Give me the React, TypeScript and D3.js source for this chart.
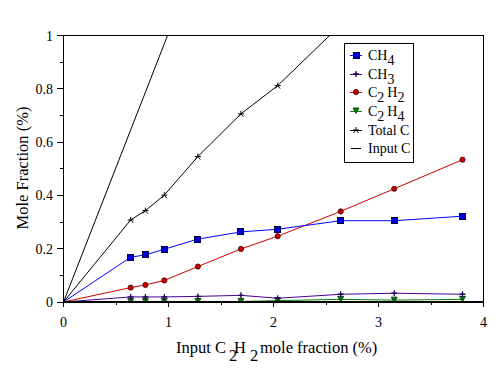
import React from "react";
import * as d3 from "d3";

const xInput = [0, 0.64, 0.78, 0.96, 1.28, 1.69, 2.04, 2.64, 3.15, 3.8];
const ch4 = [0, 0.168, 0.177, 0.198, 0.236, 0.263, 0.273, 0.305, 0.305, 0.322];
const ch3 = [0, 0.019, 0.019, 0.019, 0.021, 0.025, 0.014, 0.029, 0.033, 0.029];
const c2h2 = [0, 0.054, 0.064, 0.081, 0.133, 0.199, 0.247, 0.34, 0.425, 0.534];
const c2h4 = [0, 0.002, 0.002, 0.002, 0.002, 0.002, 0.005, 0.01, 0.007, 0.01];
const totalC = [0, 0.308, 0.343, 0.401, 0.546, 0.706, 0.812, 1.04, 1.21, 1.44];
const inputC = [0, 0.646, 0.787, 0.969, 1.292, 1.706, 2.06, 2.666, 3.18, 3.84];

const xTicks = [0, 1, 2, 3, 4];
const yTicks = [0, 0.2, 0.4, 0.6, 0.8, 1];

const FONT = "Liberation Serif";

type Series = { key: string; values: number[]; color: string; marker: string; label: [string, string][] };

const series: Series[] = [
  { key: "ch4", values: ch4, color: "#0000ff", marker: "square", label: [["CH", ""], ["4", "sub"]] },
  { key: "ch3", values: ch3, color: "#4b0090", marker: "plus", label: [["CH", ""], ["3", "sub"]] },
  { key: "c2h2", values: c2h2, color: "#cc0000", marker: "circle", label: [["C", ""], ["2", "sub"], ["H", "gap"], ["2", "sub"]] },
  { key: "c2h4", values: c2h4, color: "#008000", marker: "triangle", label: [["C", ""], ["2", "sub"], ["H", "gap"], ["4", "sub"]] },
  { key: "total", values: totalC, color: "#000000", marker: "star", label: [["Total C", ""]] },
  { key: "input", values: inputC, color: "#000000", marker: "none", label: [["Input C", ""]] },
];

function Marker({ type, x, y }: { type: string; x: number; y: number }) {
  if (type === "square")
    return <rect x={x - 3} y={y - 3} width={6} height={6} fill="#0000dd" stroke="#000040" strokeWidth={1} shapeRendering="crispEdges" />;
  if (type === "circle")
    return <circle cx={x} cy={y} r={2.6} fill="#cc0000" stroke="#400000" strokeWidth={0.8} />;
  if (type === "triangle")
    return <path d={`M${x - 3},${y - 3}L${x + 3},${y - 3}L${x},${y + 2.5}Z`} fill="#008000" stroke="#003000" strokeWidth={0.8} />;
  if (type === "plus")
    return (
      <g>
        <path d={`M${x - 3},${y}L${x + 3},${y}M${x},${y - 3}L${x},${y + 3}`} stroke="#2a0060" strokeWidth={1.3} fill="none" />
        <path d={`M${x - 1.5},${y}L${x},${y - 1.5}L${x + 1.5},${y}L${x},${y + 1.5}Z`} fill="#2a0060" />
      </g>
    );
  if (type === "star")
    return (
      <path
        d={`M${x - 3},${y}L${x + 3},${y}M${x},${y - 3}L${x},${y}M${x},${y}L${x - 2.5},${y + 3}M${x},${y}L${x + 2.5},${y + 3}`}
        stroke="#000" strokeWidth={1} fill="none"
      />
    );
  return null;
}

export default function App() {
  const x = d3.scaleLinear().domain([0, 4]).range([63.5, 483.5]);
  const y = d3.scaleLinear().domain([0, 1]).range([302, 35.5]);
  const line = d3.line<number>().x((_, i) => x(xInput[i])).y((d) => y(d));
  const rowY = [55, 74, 92, 111, 130, 148];
  const xMinor = d3.range(0, 4.01, 0.5);
  const yMinor = d3.range(0, 1.001, 0.1);
  const rev = [...series].reverse();

  return (
    <svg width={498} height={382} style={{ position: "absolute", left: 0, top: 0 }} fontFamily={FONT}>
      <rect width={498} height={382} fill="#fff" />
      <defs>
        <clipPath id="plotclip">
          <rect x={x(0)} y={y(1)} width={x(4) - x(0)} height={y(0) - y(1)} />
        </clipPath>
      </defs>
      <g clipPath="url(#plotclip)">
        {rev.map((s) => (
          <path key={s.key} d={line(s.values) || ""} fill="none" stroke={s.color} strokeWidth={1} />
        ))}
        {rev.map((s) =>
          s.marker === "none"
            ? null
            : s.values.map((v, i) =>
                i === 0 || v > 1 ? null : <Marker key={s.key + i} type={s.marker} x={x(xInput[i])} y={y(v)} />
              )
        )}
      </g>
      <rect x={x(0)} y={y(1)} width={x(4) - x(0)} height={y(0) - y(1)} fill="none" stroke="#000" strokeWidth={1.2} shapeRendering="crispEdges" />
      <g shapeRendering="crispEdges" stroke="#000" strokeWidth={1}>
        {xMinor.map((t) => {
          const major = Math.abs(t - Math.round(t)) < 1e-6;
          return <line key={"xt" + t} x1={x(t)} x2={x(t)} y1={y(0)} y2={y(0) + (major ? 5 : 3)} />;
        })}
        {yMinor.map((t) => {
          const major = Math.round(t * 10) % 2 === 0;
          return <line key={"yt" + t} x1={x(0)} x2={x(0) - (major ? 7 : 4)} y1={y(t)} y2={y(t)} />;
        })}
      </g>
      {xTicks.map((t) => (
        <text key={"xl" + t} x={x(t)} y={327} textAnchor="middle" fontSize={14}>{String(t)}</text>
      ))}
      {yTicks.map((t) => (
        <text key={"yl" + t} x={53} y={y(t) + 5} textAnchor="end" fontSize={14}>{String(t)}</text>
      ))}
      <text transform="translate(28,168) rotate(-90)" textAnchor="middle" fontSize={16.5}>Mole Fraction (%)</text>
      <text fontSize={16.5}>
        <tspan x={176} y={353}>Input C</tspan>
        <tspan x={229} y={361}>2</tspan>
        <tspan x={234} y={353}>H</tspan>
        <tspan x={250} y={361}>2</tspan>
        <tspan x={260} y={353}>mole fraction (%)</tspan>
      </text>
      <rect x={344.5} y={43.5} width={69} height={119} fill="#fff" stroke="#000" strokeWidth={1} shapeRendering="crispEdges" />
      {series.map((s, i) => {
        const yy = rowY[i];
        let shifted = false;
        return (
          <g key={"lg" + s.key}>
            <line x1={s.marker === "none" ? 351 : 350} x2={s.marker === "none" ? 361 : 362} y1={yy} y2={yy} stroke={s.color} strokeWidth={1} shapeRendering="crispEdges" />
            <Marker type={s.marker} x={356} y={yy} />
            <text x={368} y={yy + 5} fontSize={14}>
              {s.label.map(([txt, kind], j) => {
                if (kind === "sub") {
                  shifted = true;
                  return <tspan key={j} dy={5}>{txt}</tspan>;
                }
                if (shifted) {
                  shifted = false;
                  return <tspan key={j} dy={-5} dx={3}>{txt}</tspan>;
                }
                return <tspan key={j}>{txt}</tspan>;
              })}
            </text>
          </g>
        );
      })}
    </svg>
  );
}
